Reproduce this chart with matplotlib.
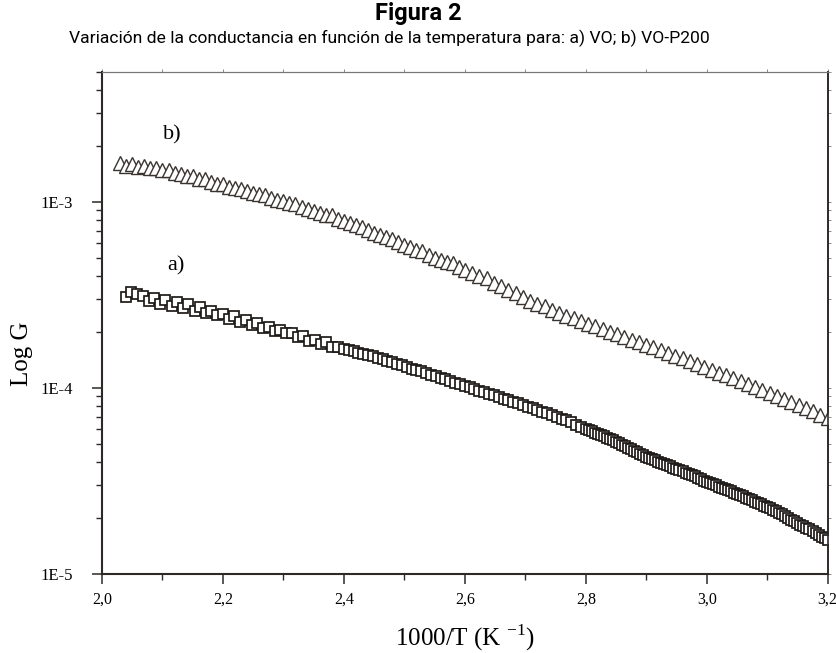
import numpy as np
import matplotlib.pyplot as plt
from matplotlib.ticker import FixedLocator, MultipleLocator, LogLocator, FuncFormatter, NullFormatter

# a) VO : 1000/T and conductance (units of 1e-5)
x_a = [2.040, 2.048, 2.058, 2.067, 2.077, 2.086, 2.096, 2.105, 2.115, 2.124,
       2.134, 2.143, 2.153, 2.162, 2.172, 2.181, 2.191, 2.200, 2.210, 2.219,
       2.229, 2.238, 2.248, 2.257, 2.267, 2.276, 2.286, 2.295, 2.305, 2.314,
       2.324, 2.333, 2.343, 2.352, 2.362, 2.371, 2.381, 2.390, 2.400,
       2.408, 2.416, 2.424, 2.432, 2.440, 2.448, 2.456, 2.464, 2.472, 2.480,
       2.488, 2.496, 2.504, 2.512, 2.520, 2.528, 2.536, 2.544, 2.552, 2.560,
       2.568, 2.576, 2.584, 2.592, 2.600, 2.608, 2.616, 2.624, 2.632, 2.640,
       2.648, 2.656, 2.664, 2.672, 2.680, 2.688, 2.696, 2.704, 2.712, 2.720,
       2.728, 2.736, 2.744, 2.752, 2.760, 2.768, 2.776, 2.784, 2.792,
       2.800, 2.805, 2.810, 2.815, 2.820, 2.825, 2.830, 2.835, 2.840, 2.845,
       2.850, 2.855, 2.860, 2.865, 2.870, 2.875, 2.880, 2.885, 2.890, 2.895,
       2.900, 2.905, 2.910, 2.915, 2.920, 2.925, 2.930, 2.935, 2.940, 2.945,
       2.950, 2.955, 2.960, 2.965, 2.970, 2.975, 2.980, 2.985, 2.990, 2.995,
       3.000, 3.005, 3.010, 3.015, 3.020, 3.025, 3.030, 3.035, 3.040, 3.045,
       3.050, 3.055, 3.060, 3.065, 3.070, 3.075, 3.080, 3.085, 3.090, 3.095,
       3.100, 3.105, 3.110, 3.115, 3.120, 3.125, 3.130, 3.135, 3.140, 3.145,
       3.150, 3.155, 3.160, 3.165, 3.170, 3.175, 3.180, 3.185, 3.190, 3.195,
       3.200]
g_a = [30.8, 32.6, 31.9, 31.2, 29.3, 30.5, 28.4, 29.8, 27.6, 28.9,
       26.9, 28.1, 25.9, 27.3, 25.2, 26.0, 24.6, 24.9, 23.4, 24.3,
       22.6, 23.1, 21.7, 22.4, 21.0, 21.3, 20.2, 20.6, 19.8, 19.7,
       18.8, 18.9, 17.9, 18.2, 17.3, 17.6, 16.6, 16.5, 16.2,
       16.0, 15.7, 15.5, 15.2, 15.0, 14.8, 14.5, 14.3, 14.0, 13.7,
       13.5, 13.2, 13.0, 12.7, 12.5, 12.3, 12.0, 11.8, 11.55, 11.33,
       11.12, 10.9, 10.69, 10.47, 10.26, 10.07, 9.88, 9.68, 9.49, 9.30,
       9.11, 8.93, 8.76, 8.59, 8.42, 8.25, 8.08, 7.92, 7.77, 7.62,
       7.47, 7.32, 7.17, 7.02, 6.85, 6.69, 6.52, 6.35, 6.19,
       6.02, 5.93, 5.84, 5.75, 5.66, 5.58, 5.49, 5.40, 5.31, 5.22,
       5.13, 5.04, 4.96, 4.87, 4.78, 4.70, 4.61, 4.52, 4.43, 4.35,
       4.26, 4.20, 4.14, 4.08, 4.02, 3.97, 3.91, 3.85, 3.79, 3.73,
       3.67, 3.62, 3.56, 3.51, 3.45, 3.40, 3.35, 3.29, 3.24, 3.18,
       3.13, 3.09, 3.04, 3.00, 2.95, 2.91, 2.87, 2.82, 2.78, 2.73,
       2.69, 2.65, 2.61, 2.57, 2.53, 2.49, 2.45, 2.41, 2.37, 2.33,
       2.29, 2.25, 2.21, 2.17, 2.13, 2.09, 2.04, 2.00, 1.96, 1.92,
       1.88, 1.84, 1.81, 1.77, 1.74, 1.70, 1.66, 1.63, 1.59, 1.56,
       1.52]

# b) VO-P200 : 1000/T and conductance (units of 1e-3)
x_b = [2.030, 2.040, 2.050, 2.060, 2.070, 2.080, 2.090, 2.100, 2.110, 2.120,
       2.130, 2.140, 2.150, 2.160, 2.170, 2.180, 2.190, 2.200, 2.210, 2.220,
       2.230, 2.240, 2.250, 2.260, 2.270, 2.280, 2.290, 2.300, 2.310, 2.320,
       2.330, 2.340, 2.350, 2.360, 2.370, 2.380, 2.390, 2.400, 2.410, 2.420,
       2.430, 2.440, 2.450, 2.460, 2.470, 2.480, 2.490, 2.500, 2.510, 2.520,
       2.530, 2.540, 2.550, 2.560, 2.570, 2.580, 2.590, 2.600,
       2.612, 2.624, 2.636, 2.648, 2.660, 2.672, 2.684, 2.696, 2.708, 2.720,
       2.732, 2.744, 2.756, 2.768, 2.780, 2.792, 2.804, 2.816, 2.828, 2.840,
       2.852, 2.864, 2.876, 2.888, 2.900, 2.912, 2.924, 2.936, 2.948, 2.960,
       2.972, 2.984, 2.996, 3.008, 3.020, 3.032, 3.044, 3.056, 3.068, 3.080,
       3.092, 3.104, 3.116, 3.128, 3.140, 3.152, 3.164, 3.176, 3.188, 3.200]
g_b = [1.62, 1.55, 1.60, 1.549, 1.56, 1.514, 1.52, 1.479, 1.48, 1.429,
       1.42, 1.380, 1.37, 1.330, 1.32, 1.280, 1.255, 1.24, 1.208, 1.187,
       1.18, 1.144, 1.122, 1.099, 1.09, 1.052, 1.028, 1.005, 0.983, 0.975,
       0.939, 0.917, 0.895, 0.874, 0.853, 0.845, 0.812, 0.791, 0.770, 0.748,
       0.735, 0.705, 0.684, 0.664, 0.645, 0.635, 0.606, 0.586, 0.569, 0.552,
       0.545, 0.518, 0.501, 0.487, 0.473, 0.467, 0.445, 0.431,
       0.415, 0.399, 0.390, 0.366, 0.351, 0.336, 0.322, 0.307, 0.295, 0.284,
       0.274, 0.263, 0.254, 0.245, 0.237, 0.229, 0.221, 0.214, 0.207, 0.201,
       0.194, 0.188, 0.182, 0.176, 0.170, 0.165, 0.159, 0.154, 0.149, 0.144,
       0.139, 0.134, 0.130, 0.125, 0.121, 0.117, 0.113, 0.109, 0.105, 0.101,
       0.0976, 0.0939, 0.0906, 0.0873, 0.0840, 0.0808, 0.0778, 0.0749, 0.0719, 0.0690]

x_ticks = [2.0, 2.2, 2.4, 2.6, 2.8, 3.0, 3.2]
y_ticks = [1e-5, 1e-4, 1e-3]

plt.rcParams['font.family'] = ['Liberation Serif', 'DejaVu Serif']
dark = '#2e2826'
grey = '#777777'

fig = plt.figure(figsize=(8.36, 6.53), dpi=100)
ax = fig.add_axes([0.122, 0.121, 0.868, 0.769])

ax.plot(x_a, np.array(g_a) * 1e-5, ls='none', marker='s', ms=7,
        mfc='white', mec='#1e1a18', mew=1.25)
ax.plot(x_b, np.array(g_b) * 1e-3, ls='none', marker='^', ms=9.5,
        mfc='white', mec='#3a3431', mew=1.0)

ax.set_yscale('log')
ax.set_xlim(2.0, 3.2)
ax.set_ylim(1e-5, 5e-3)

ax.xaxis.set_major_locator(FixedLocator(x_ticks))
ax.xaxis.set_minor_locator(MultipleLocator(0.1))
ax.xaxis.set_major_formatter(FuncFormatter(lambda v, p: f"{v:.1f}".replace('.', ',')))
ax.yaxis.set_major_locator(FixedLocator(y_ticks))
ax.yaxis.set_minor_locator(LogLocator(base=10, subs=np.arange(2, 10)))
ax.yaxis.set_major_formatter(FuncFormatter(lambda v, p: f"1E{int(round(np.log10(v)))}"))
ax.yaxis.set_minor_formatter(NullFormatter())

ax.tick_params(which='major', direction='out', length=7, width=1.1, color=dark,
               labelsize=12, top=False, right=False)
ax.tick_params(which='minor', direction='out', length=4, width=1.0, color=dark,
               top=False, right=False)
ax.tick_params(axis='y', which='major', pad=14)
ax.tick_params(axis='x', which='major', pad=6, labelsize=11.5)

for s in ['left', 'bottom']:
    ax.spines[s].set_linewidth(1.5)
    ax.spines[s].set_color(dark)
ax.spines['top'].set_linewidth(0.8)
ax.spines['top'].set_color(grey)
ax.spines['right'].set_linewidth(1.2)
ax.spines['right'].set_color(dark)

# small outward ticks on top and right
top = ax.secondary_xaxis('top')
top.xaxis.set_major_locator(MultipleLocator(0.1))
top.xaxis.set_major_formatter(NullFormatter())
top.tick_params(direction='out', length=2.5, width=0.6, color=grey)
top.spines['top'].set_linewidth(0.8)
top.spines['top'].set_color(grey)

right = ax.secondary_yaxis('right')
right.yaxis.set_major_locator(LogLocator(base=10, subs=(1.0,)))
right.yaxis.set_minor_locator(LogLocator(base=10, subs=np.arange(2, 10)))
right.yaxis.set_major_formatter(NullFormatter())
right.yaxis.set_minor_formatter(NullFormatter())
right.tick_params(which='both', direction='out', length=2.5, width=0.6, color=grey)
right.spines['right'].set_linewidth(1.2)
right.spines['right'].set_color(dark)

ax.text(2.116, 2.29e-3, 'b)', fontsize=16, ha='center', va='center')
ax.text(2.122, 4.53e-4, 'a)', fontsize=16, ha='center', va='center')

fig.text(0.026, 0.459, 'Log G', rotation=90, fontsize=18, ha='center', va='center')
fig.text(0.556, 0.023, r'1000/T (K $^{\mathregular{-1}}$)', fontsize=18,
         ha='center', va='center')

sans = ['Roboto', 'DejaVu Sans']
fig.text(0.5, 0.980, 'Figura 2', fontsize=17, fontweight='bold', family=sans,
         ha='center', va='center')
fig.text(0.466, 0.942, 'Variación de la conductancia en función de la temperatura para: a) VO; b) VO-P200',
         fontsize=12.6, family=sans, ha='center', va='center')

fig.savefig('out.png', dpi=100)
